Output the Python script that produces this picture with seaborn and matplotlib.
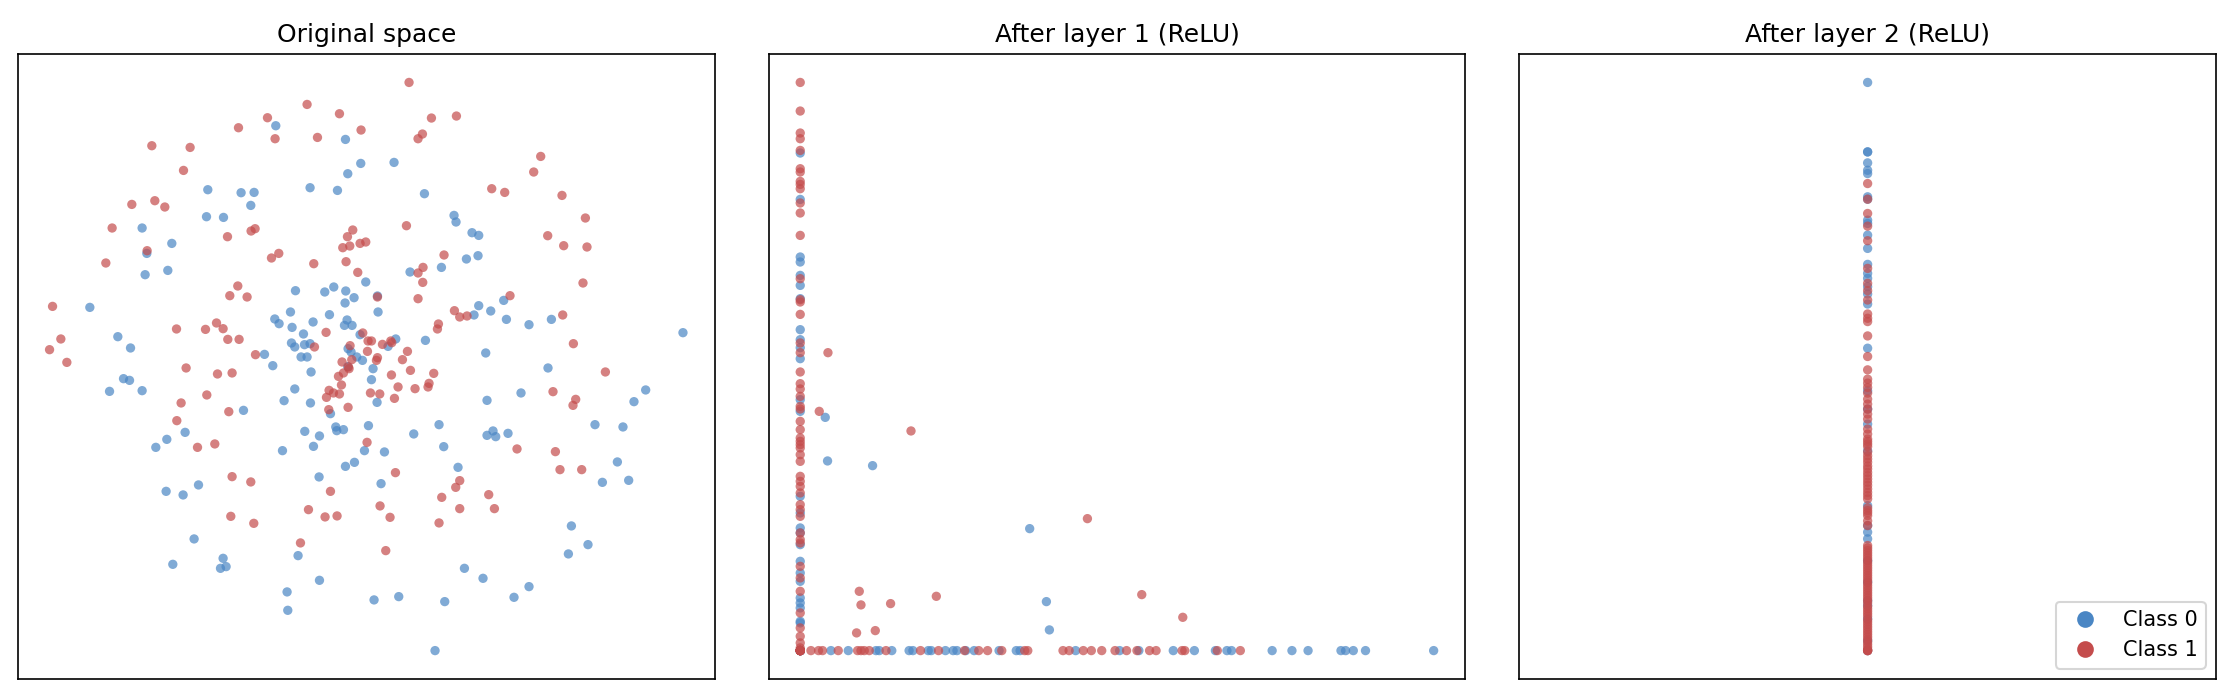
import numpy as np
import matplotlib
matplotlib.use("Agg")
import matplotlib.pyplot as plt
import seaborn as sns
from matplotlib.lines import Line2D

blue = "#4a86c4"
red = "#c44c4c"
titles = ["Original space", "After layer 1 (ReLU)", "After layer 2 (ReLU)"]
class_names = ["Class 0", "Class 1"]

# original 2d inputs, (x, y) per point
orig0 = np.array([
    (-0.90, 2.41), (-0.203, 2.273), (-0.05, 2.033), (-0.18, 1.93), (-0.557, 1.79), (-0.283, 1.763),
    (-1.58, 1.77), (-1.247, 1.74), (-1.117, 1.743), (-1.15, 1.613), (-1.593, 1.50), (-1.423, 1.493),
    (-2.237, 1.387), (-1.94, 1.233), (-2.19, 1.133), (-2.207, 0.92), (-1.98, 0.963), (-0.703, 0.76),
    (-0.41, 0.747), (-0.32, 0.797), (-0.20, 0.757), (-0.117, 0.69), (-0.207, 0.637), (-2.76, 0.593),
    (-0.753, 0.547), (-0.91, 0.477), (-0.867, 0.43), (-0.737, 0.393), (-0.527, 0.447), (-0.363, 0.52),
    (-0.187, 0.467), (-0.213, 0.413), (-0.137, 0.413), (-0.623, 0.327), (-0.057, 0.32), (-2.48, 0.30),
    (-2.353, 0.187), (-0.743, 0.237), (-0.71, 0.197), (-0.613, 0.22), (-0.557, 0.23), (-1.013, 0.123),
    (-0.647, 0.097), (-0.587, 0.097), (-0.177, 0.18), (-0.147, 0.147), (-0.09, 0.097), (-0.033, 0.063),
    (-0.93, 0.01), (-0.547, -0.053), (-2.423, -0.12), (-2.363, -0.137), (-2.563, -0.247), (-2.237, -0.24),
    (-0.71, -0.223), (-0.817, -0.34), (-0.553, -0.363), (-1.223, -0.437), (-0.353, -0.47), (-0.30, -0.603),
    (-0.29, -0.64), (-0.223, -0.63), (-0.61, -0.647), (-0.463, -0.693), (-0.523, -0.797), (-0.833, -0.84),
    (-1.807, -0.657), (-1.99, -0.727), (-2.10, -0.807), (-0.203, -0.997), (-0.113, -0.957), (-0.013, -0.84),
    (-0.467, -1.103), (-1.997, -1.247), (-1.827, -1.283), (-1.673, -1.183), (-1.717, -1.723), (-1.93, -1.977),
    (-1.427, -1.917), (-1.453, -2.017), (-1.397, -2.00), (-0.677, -1.89), (-0.463, -2.137), (-0.787, -2.253),
    (-0.78, -2.437), (-0.18, 0.0),
    (0.283, 2.043), (0.587, 1.73), (0.883, 1.513), (0.903, 1.447), (1.063, 1.34), (1.13, 1.313),
    (1.007, 1.077), (1.123, 1.11), (0.757, 0.993), (0.443, 0.947), (0.0, 0.847), (0.117, 0.707),
    (0.123, 0.547), (1.13, 0.61), (1.25, 0.557), (1.083, 0.517), (1.38, 0.663), (1.407, 0.473),
    (1.633, 0.42), (1.857, 0.473), (3.173, 0.34), (0.30, 0.277), (0.223, 0.203), (0.597, 0.263), (1.20, 0.137),
    (0.073, -0.02), (0.057, -0.13), (0.113, -0.357), (1.823, -0.013), (1.553, -0.263), (1.213, -0.337),
    (2.80, -0.233), (2.683, -0.35), (0.027, -0.59), (0.48, -0.673), (0.733, -0.58), (0.78, -0.80),
    (0.187, -0.853), (1.213, -0.687), (1.273, -0.643), (1.30, -0.70), (1.423, -0.667), (2.293, -0.58),
    (2.573, -0.603), (2.517, -0.953), (2.367, -1.157), (2.63, -1.137), (0.923, -1.007), (0.153, -1.17),
    (2.057, -1.593), (2.223, -1.78), (2.027, -1.873), (0.987, -2.017), (1.173, -2.117), (1.633, -2.20),
    (1.483, -2.307), (0.083, -2.333), (0.33, -2.30), (0.79, -2.35), (0.693, -2.84),
])
orig1 = np.array([
    (-0.587, 2.623), (-0.263, 2.53), (-0.983, 2.49), (-1.273, 2.39), (-0.483, 2.293), (-0.907, 2.28),
    (-0.047, 2.367), (-2.14, 2.21), (-1.757, 2.193), (-1.823, 1.963), (-2.34, 1.623), (-2.11, 1.66),
    (-2.01, 1.597), (-2.537, 1.387), (-1.383, 1.30), (-1.147, 1.357), (-1.107, 1.38), (-0.13, 1.367),
    (-0.183, 1.30), (-0.057, 1.233), (-0.23, 1.19), (-0.16, 1.207), (-2.187, 1.16), (-0.943, 1.087),
    (-0.87, 1.133), (-0.52, 1.03), (-0.197, 1.05), (-2.60, 1.037), (-0.08, 0.943), (-1.28, 0.807),
    (-1.36, 0.71), (-1.187, 0.697), (-3.133, 0.603), (-1.893, 0.377), (-1.603, 0.373), (-1.493, 0.437),
    (-1.427, 0.38), (-1.38, 0.273), (-1.267, 0.273), (-3.05, 0.277), (-3.163, 0.17), (-2.99, 0.043),
    (-0.397, 0.343), (-0.513, 0.197), (-1.103, 0.12), (-0.157, 0.21), (-0.237, 0.047), (-0.14, 0.07),
    (-0.03, 0.337), (-0.173, -0.003),
    (-1.797, -0.013), (-1.483, -0.073), (-1.337, -0.063), (-1.59, -0.283), (-1.847, -0.363), (-1.37, -0.45),
    (-1.89, -0.54), (-1.683, -0.807), (-1.51, -0.773), (-1.337, -1.10), (-1.15, -1.153), (-1.35, -1.497),
    (-1.12, -1.567), (-0.653, -1.763), (-0.573, -1.43), (-0.407, -1.503), (-0.287, -1.493), (-0.353, -1.247),
    (-0.177, -0.407), (-0.37, -0.43), (-0.273, -0.097), (-0.223, -0.063), (-0.167, -0.02), (-0.243, -0.183),
    (-0.367, -0.237), (-0.393, -0.307), (-0.323, -0.263), (-0.263, -0.273),
    (0.433, 2.843), (0.657, 2.487), (0.907, 2.507), (0.567, 2.327), (0.523, 2.28), (1.75, 2.103),
    (1.68, 1.947), (1.26, 1.78), (1.39, 1.743), (1.963, 1.713), (2.197, 1.487), (0.407, 1.41),
    (1.82, 1.31), (1.98, 1.21), (2.213, 1.197), (0.0, 1.247), (0.783, 1.117), (0.573, 0.993),
    (0.523, 0.937), (0.57, 0.843), (2.173, 0.837), (0.523, 0.68), (0.117, 0.697), (1.443, 0.71),
    (0.887, 0.56), (0.94, 0.497), (1.013, 0.507), (1.97, 0.517), (0.727, 0.427), (0.717, 0.377),
    (0.023, 0.257), (0.057, 0.257), (0.017, 0.153), (0.167, 0.223), (0.25, 0.257), (0.26, 0.24),
    (0.417, 0.153), (0.367, 0.07), (0.117, 0.09), (0.107, 0.063), (2.077, 0.23),
    (0.447, -0.037), (0.257, -0.083), (0.68, -0.067), (0.323, -0.203), (0.493, -0.22), (0.623, -0.203),
    (0.633, -0.167), (0.047, -0.263), (0.14, -0.273), (0.287, -0.317), (2.397, -0.053), (1.873, -0.25),
    (2.10, -0.327), (2.073, -0.387), (0.013, -0.757), (1.513, -0.823), (1.897, -0.85), (1.943, -1.03),
    (2.16, -1.03), (0.297, -1.06), (0.94, -1.14), (0.90, -1.207), (0.76, -1.307), (1.23, -1.28),
    (1.287, -1.42), (0.94, -1.42), (0.143, -1.393), (0.243, -1.507), (0.733, -1.563), (0.20, -1.84),
])

# after layer 1: most points sit on one of the two axes
l1_vert0 = [4.977, 4.513, 3.937, 3.887, 3.753, 3.653, 3.52, 3.21, 3.11, 3.03, 2.92, 2.51, 2.393,
            1.543, 1.377, 1.227, 1.177, 1.06, 0.893, 0.777, 0.693, 0.527, 0.477, 0.427, 0.293, 0.277]
l1_vert1 = [5.683, 5.397, 5.177, 5.12, 5.003, 4.82, 4.787, 4.693, 4.663, 4.62, 4.477, 4.377, 4.153,
            3.72, 3.51, 3.487, 3.363, 3.077, 2.98, 2.787, 2.67, 2.617, 2.543, 2.443, 2.417, 2.293,
            2.21, 2.127, 2.093, 2.06, 2.027, 1.96, 1.893, 1.743, 1.693, 1.643, 1.577, 1.46, 1.41,
            1.343, 1.177, 1.11, 1.077, 0.843, 0.727, 0.593, 0.377, 0.227, 0.143, 0.077, 0.027]
l1_horiz0 = [0.307, 0.48, 0.757, 0.79, 0.915, 1.088, 1.126, 1.279, 1.309, 1.451, 1.528, 1.566, 1.654,
             1.738, 1.987, 2.159, 2.197, 2.752, 3.192, 3.384, 3.728, 3.939, 4.149, 4.264, 4.31,
             4.716, 4.914, 5.075, 5.404, 5.45, 5.527, 5.649, 6.33]
l1_horiz1 = [0.107, 0.183, 0.223, 0.38, 0.573, 0.607, 0.64, 0.69, 0.857, 1.202, 1.382, 1.642, 1.784,
             1.872, 2.014, 2.243, 2.274, 2.626, 2.687, 2.829, 2.909, 3.013, 3.146, 3.261, 3.365,
             3.491, 3.556, 3.816, 3.843, 4.168, 4.398]
l1_free0 = np.array([(0.25, 2.333), (0.273, 1.897), (0.723, 1.85), (2.293, 1.22), (2.46, 0.49), (2.49, 0.207)])
l1_free1 = np.array([(0.277, 2.98), (0.19, 2.393), (0.59, 0.593), (0.607, 0.457), (0.563, 0.177), (0.75, 0.20),
                     (0.903, 0.47), (1.107, 2.197), (1.36, 0.543), (2.87, 1.32), (3.413, 0.56), (3.823, 0.333)])
l1_origin0 = 8
l1_origin1 = 10

# after layer 2: first unit is dead, everything lies on x = 0
l2_y0 = [5.693, 4.997, 4.997, 4.887, 4.813, 4.78, 4.547, 4.523, 4.313, 4.28, 4.163, 4.03, 3.87, 3.78,
         3.73, 3.647, 3.573, 3.473, 3.03, 2.603, 2.42, 2.27, 2.003, 1.453, 1.253, 1.187, 1.12, 0.9,
         0.687, 0.5, 0.453, 0.32, 0.1, 0.0]
l2_y1 = [4.68, 4.523, 4.38, 4.253, 4.107, 3.83, 3.68, 3.607, 3.513, 3.373, 3.33, 3.297, 3.153, 2.947,
         2.813, 2.72, 2.637, 2.52, 2.42, 2.32, 2.17, 2.12, 2.07, 1.953, 1.887, 1.82, 1.753, 1.687,
         1.62, 1.553, 1.403, 1.353, 1.253, 1.053, 1.003, 0.953, 0.903, 0.853, 0.803, 0.753, 0.653,
         0.603, 0.553, 0.503, 0.42, 0.37, 0.287, 0.237, 0.187, 0.137, 0.087, 0.037, 0.0, 0.0, 0.0,
         2.68, 2.58, 2.47, 2.37, 2.22, 2.095, 2.045, 1.99, 1.92, 1.85, 1.785, 1.72, 1.655, 1.585,
         1.52, 1.43, 1.38, 1.30, 1.028, 0.978, 0.928, 0.878, 0.828, 0.778, 0.728, 0.703, 0.678,
         0.628, 0.578, 0.528, 0.478, 0.445, 0.395, 0.345, 0.31, 0.262, 0.212, 0.162, 0.112, 0.062, 0.012]


def layer1_points(vert, horiz, free, n_origin):
    xs = np.concatenate([np.zeros(len(vert)), horiz, free[:, 0], np.zeros(n_origin)])
    ys = np.concatenate([vert, np.zeros(len(horiz)), free[:, 1], np.zeros(n_origin)])
    return xs, ys


panels = [
    [(orig0[:, 0], orig0[:, 1]), (orig1[:, 0], orig1[:, 1])],
    [layer1_points(l1_vert0, l1_horiz0, l1_free0, l1_origin0),
     layer1_points(l1_vert1, l1_horiz1, l1_free1, l1_origin1)],
    [(np.zeros(len(l2_y0)), np.array(l2_y0)), (np.zeros(len(l2_y1)), np.array(l2_y1))],
]

fig, axes = plt.subplots(1, 3, figsize=(14.9, 4.66), dpi=150)
fig.subplots_adjust(left=0.008, right=0.9915, bottom=0.0286, top=0.9227, wspace=0.0774)

for ax, title, pts in zip(axes, titles, panels):
    for (xs, ys), col in zip(pts, [blue, red]):
        sns.scatterplot(x=xs, y=ys, color=col, s=20, alpha=0.7, edgecolor="none", linewidth=0, ax=ax)
    ax.set_title(title, fontsize=12)
    ax.set_xticks([])
    ax.set_yticks([])

handles = [Line2D([], [], marker="o", linestyle="", color=c, markersize=7, label=n)
           for c, n in zip([blue, red], class_names)]
axes[2].legend(handles=handles, loc="lower right")

fig.savefig("out.png", dpi=150)
